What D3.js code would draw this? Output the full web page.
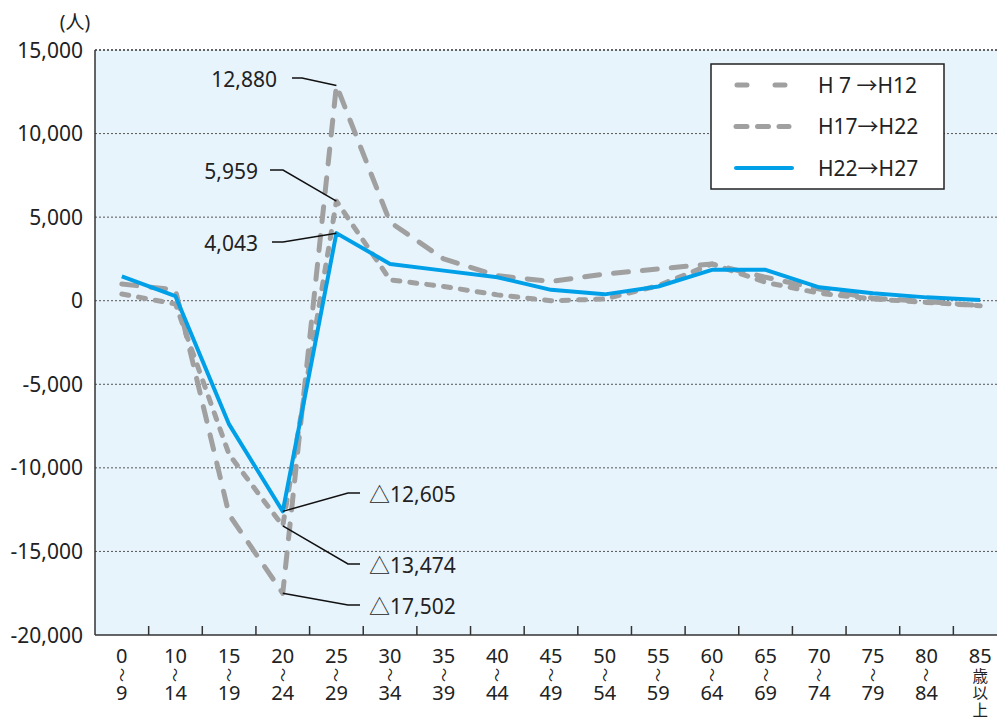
<!DOCTYPE html>
<html>
<head>
<meta charset="utf-8">
<script src="https://cdn.jsdelivr.net/npm/d3@7"></script>
<style>
  body { margin: 0; background: #fff; }
  svg { display: block; font-family: "Noto Sans", "Noto Sans CJK JP", sans-serif; }
</style>
</head>
<body>
<div id="chart"></div>
<script>
// age groups (top number / bottom number of each label)
let ageTop = ["0", "10", "15", "20", "25", "30", "35", "40", "45", "50", "55", "60", "65", "70", "75", "80", "85"];
let ageBottom = ["9", "14", "19", "24", "29", "34", "39", "44", "49", "54", "59", "64", "69", "74", "79", "84", null];

// net migration by age group (persons)
let h7to12 = [1000, 650, -12800, -17502, 12880, 4700, 2500, 1500, 1150, 1600, 1900, 2200, 1400, 700, 150, -50, -300];
let h17to22 = [400, -200, -9200, -13474, 5959, 1250, 850, 350, 0, 100, 900, 2200, 1100, 450, 100, -100, -300];
let h22to27 = [1450, 270, -7400, -12605, 4043, 2200, 1800, 1400, 650, 380, 850, 1850, 1850, 800, 450, 200, 50];

let yTicks = [15000, 10000, 5000, 0, -5000, -10000, -15000, -20000];

let width = 997;
let height = 720;
let plotL = 95, plotR = 1007, plotT = 50, plotB = 635;

let svg = d3.select("#chart").append("svg")
  .attr("width", width)
  .attr("height", height);

let x = d3.scaleBand().domain(ageTop).range([plotL, plotR]);
let y = d3.scaleLinear().domain([-20000, 15000]).range([plotB, plotT]);
let cx = d => x(d) + x.bandwidth() / 2;
let fmt = d3.formatLocale({ decimal: ".", thousands: ",", grouping: [3], currency: ["", ""], minus: "-" }).format(",");

// plot background
svg.append("rect")
  .attr("x", plotL).attr("y", plotT)
  .attr("width", plotR - plotL).attr("height", plotB - plotT)
  .attr("fill", "#e8f4fc");

// dotted grid lines
svg.append("g")
  .selectAll("line")
  .data(yTicks.filter(d => d > -20000))
  .enter().append("line")
  .attr("x1", plotL).attr("x2", plotR)
  .attr("y1", d => y(d)).attr("y2", d => y(d))
  .attr("stroke", d => d === 15000 ? "#333" : "#555")
  .attr("stroke-width", d => d === 15000 ? 1.5 : 1)
  .attr("stroke-dasharray", "2,2");

// y axis labels
svg.append("g")
  .selectAll("text")
  .data(yTicks)
  .enter().append("text")
  .attr("x", 83)
  .attr("y", d => y(d))
  .attr("dy", "0.36em")
  .attr("text-anchor", "end")
  .attr("font-size", 21)
  .attr("fill", "#222")
  .text(d => fmt(d));

svg.append("text")
  .attr("x", 75).attr("y", 29)
  .attr("text-anchor", "middle")
  .attr("font-size", 19)
  .attr("fill", "#222")
  .text("(人)");

// axes lines
svg.append("line")
  .attr("x1", plotL).attr("x2", plotL)
  .attr("y1", plotT).attr("y2", plotB)
  .attr("stroke", "#333").attr("stroke-width", 1.5);
svg.append("line")
  .attr("x1", plotL).attr("x2", plotR)
  .attr("y1", plotB).attr("y2", plotB)
  .attr("stroke", "#333").attr("stroke-width", 1.5);

// ticks between age groups
svg.append("g")
  .selectAll("line")
  .data(ageTop.slice(1))
  .enter().append("line")
  .attr("x1", d => x(d)).attr("x2", d => x(d))
  .attr("y1", plotB).attr("y2", plotB - 9)
  .attr("stroke", "#333").attr("stroke-width", 1.5);

// x labels
let xl = svg.append("g")
  .selectAll("g")
  .data(ageTop)
  .enter().append("g")
  .attr("transform", d => "translate(" + cx(d) + ",0)")
  .attr("font-size", 20)
  .attr("fill", "#222")
  .attr("text-anchor", "middle");

xl.append("text").attr("y", 663).text(d => d);
xl.each(function(d, i) {
  let g = d3.select(this);
  if (ageBottom[i] !== null) {
    g.append("text")
      .attr("transform", "translate(0,675) rotate(90)")
      .attr("dy", "0.36em")
      .attr("font-size", 14)
      .text("～");
    g.append("text").attr("y", 700).text(ageBottom[i]);
  } else {
    ["歳", "以", "上"].forEach((c, j) => {
      g.append("text")
        .attr("y", 682 + j * 17)
        .attr("font-size", 15.5)
        .attr("font-family", "Noto Sans CJK JP")
        .text(c);
    });
  }
});

// lines
let line = d3.line()
  .x((d, i) => cx(ageTop[i]))
  .y(d => y(d));

let series = [
  { data: h7to12, color: "#a0a0a0", width: 5, dash: "15,14" },
  { data: h17to22, color: "#a0a0a0", width: 5, dash: "7,10" },
  { data: h22to27, color: "#00a0e9", width: 4, dash: null }
];

series.forEach(s => {
  svg.append("path")
    .datum(s.data)
    .attr("d", line)
    .attr("fill", "none")
    .attr("stroke", s.color)
    .attr("stroke-width", s.width)
    .attr("stroke-linecap", s.dash ? "round" : "butt")
    .attr("stroke-linejoin", "round")
    .attr("stroke-dasharray", s.dash);
});

// callouts: label, series, index, text anchor x/y, line start, elbow x
let callouts = [
  { label: "12,880", data: h7to12, i: 4, tx: 277, ty: 79, lx: 292, ex: 302, side: "left" },
  { label: "5,959", data: h17to22, i: 4, tx: 258, ty: 171, lx: 270, ex: 283, side: "left" },
  { label: "4,043", data: h22to27, i: 4, tx: 258, ty: 243, lx: 272, ex: 283, side: "left" },
  { label: "△12,605", data: h22to27, i: 3, tx: 369, ty: 494, lx: 360, ex: 348, side: "right" },
  { label: "△13,474", data: h17to22, i: 3, tx: 369, ty: 565, lx: 360, ex: 348, side: "right" },
  { label: "△17,502", data: h7to12, i: 3, tx: 369, ty: 606, lx: 360, ex: 348, side: "right" }
];

callouts.forEach(c => {
  let px = cx(ageTop[c.i]), py = y(c.data[c.i]);
  let ly = c.ty - 1;
  svg.append("polyline")
    .attr("points", [[c.lx, ly], [c.ex, ly], [px, py]].map(p => p.join(",")).join(" "))
    .attr("fill", "none")
    .attr("stroke", "#111")
    .attr("stroke-width", 1.5);
  svg.append("text")
    .attr("x", c.tx)
    .attr("y", c.ty)
    .attr("dy", "0.36em")
    .attr("text-anchor", c.side === "left" ? "end" : "start")
    .attr("font-size", 21)
    .attr("fill", "#222")
    .text(c.label);
});

// legend
let legendNames = ["H 7 →H12", "H17→H22", "H22→H27"];
let lg = svg.append("g");
lg.append("rect")
  .attr("x", 711).attr("y", 64)
  .attr("width", 233).attr("height", 125)
  .attr("fill", "#fff")
  .attr("stroke", "#222")
  .attr("stroke-width", 1.5);

legendNames.forEach((name, i) => {
  let ly = 85 + i * 41.5;
  let s = series[i];
  lg.append("line")
    .attr("x1", i === 0 ? 737 : 736).attr("x2", i === 2 ? 792 : 789)
    .attr("y1", ly).attr("y2", ly)
    .attr("stroke", s.color)
    .attr("stroke-width", s.width)
    .attr("stroke-linecap", "round")
    .attr("stroke-dasharray", i === 0 ? "10,28" : (i === 1 ? "11,10.5" : null));
  lg.append("text")
    .attr("x", 818).attr("y", ly)
    .attr("dy", "0.36em")
    .attr("font-size", 21)
    .attr("fill", "#222")
    .text(name);
});
</script>
</body>
</html>
